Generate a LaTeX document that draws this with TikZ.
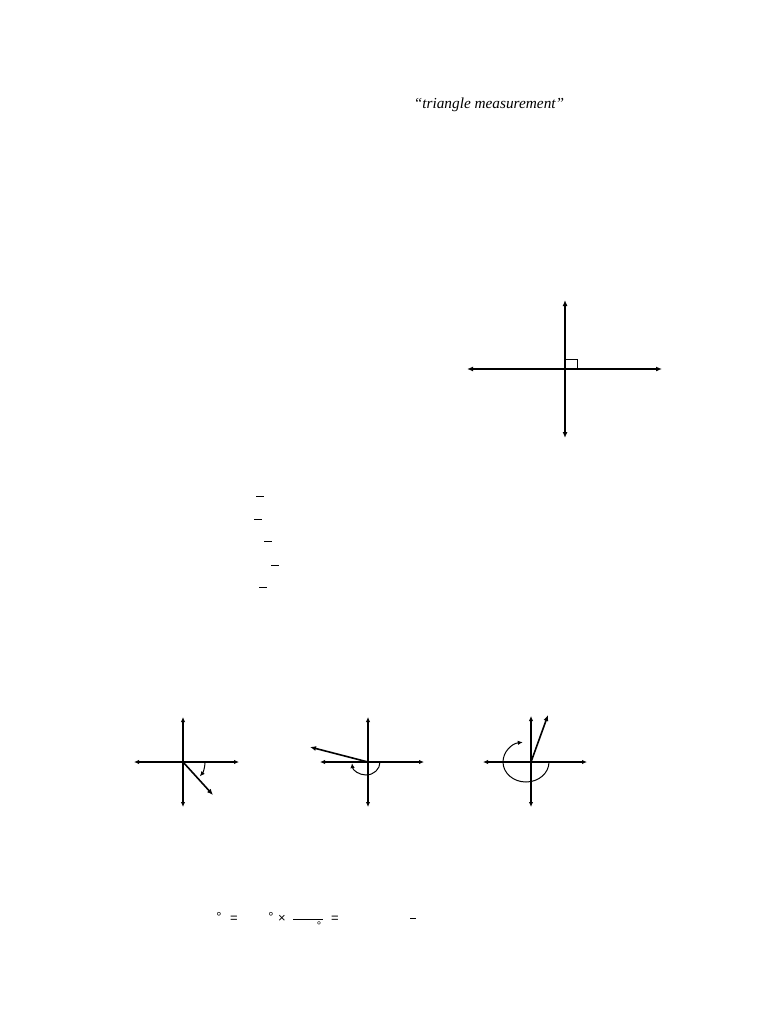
\documentclass[tikz,border=0pt]{standalone}
\usepackage{fontspec}
\setmainfont{Liberation Serif}
\newfontfamily\symfont{Liberation Sans}
\usetikzlibrary{arrows.meta,calc}
\begin{document}
\begin{tikzpicture}[x=1pt,y=-1pt,
  axis/.style={line width=1.8pt,{Latex[length=6pt,width=5pt]}-{Latex[length=6pt,width=5pt]}},
  saxis/.style={line width=1.3pt,{Latex[length=5pt,width=4.5pt]}-{Latex[length=5pt,width=4.5pt]}},
  ray/.style={line width=1.6pt,-{Latex[length=6pt,width=5pt]}},
  turn/.style={line width=1pt,-{Latex[length=5pt,width=4.5pt]}},
  bar/.style={line width=1pt},
  sym/.style={font=\symfont\fontsize{13}{15}\selectfont,inner sep=0pt}]
\useasboundingbox (0,0) rectangle (768,1024);
% title text
\node[font=\itshape\fontsize{15.3}{17}\selectfont,inner sep=0pt] (title) at (489,105) {“triangle measurement”};
% big axes
\coordinate (bO) at (565,369);
\coordinate (bL) at (467,369);
\coordinate (bR) at (662,369);
\coordinate (bT) at (565,300);
\coordinate (bB) at (565,438);
\draw[axis] (bL) -- (bR);
\draw[axis] (bT) -- (bB);
\draw[line width=0.8pt] (565,359) -- (577,359) -- (577,369);
% fraction bars
\draw[bar] (256,496) -- (264,496);
\draw[bar] (254,519) -- (262,519);
\draw[bar] (264,541) -- (272,541);
\draw[bar] (271,565) -- (279,565);
\draw[bar] (259,587) -- (267,587);
% diagram 1
\coordinate (aO) at (183,762);
\coordinate (aL) at (134,762);
\coordinate (aR) at (239,762);
\coordinate (aT) at (183,717);
\coordinate (aB) at (183,807);
\coordinate (aE) at (213,795);
\draw[saxis] (aL) -- (aR);
\draw[saxis] (aT) -- (aB);
\draw[ray] (aO) -- (aE);
\draw[turn] ($(aO)+(22,1)$) arc[start angle=2,end angle=40,radius=22];
% diagram 2
\coordinate (cO) at (368,762);
\coordinate (cL) at (320,762);
\coordinate (cR) at (424,762);
\coordinate (cT) at (368,717);
\coordinate (cB) at (368,807);
\coordinate (cE) at (310,747);
\draw[saxis] (cL) -- (cR);
\draw[saxis] (cT) -- (cB);
\draw[ray] (cO) -- (cE);
\draw[turn] (380,762) arc[start angle=0,end angle=175,x radius=14,y radius=13];
% diagram 3
\coordinate (dO) at (531,762);
\coordinate (dL) at (483,762);
\coordinate (dR) at (587,762);
\coordinate (dT) at (531,716);
\coordinate (dB) at (531,807);
\coordinate (dE) at (548,715);
\draw[saxis] (dL) -- (dR);
\draw[saxis] (dT) -- (dB);
\draw[ray] (dO) -- (dE);
\draw[turn] (549,762) arc[start angle=0,end angle=262,x radius=23,y radius=20];
% formula
\node[sym] (deg1) at (219,917) {°};
\node[sym] (eq1) at (234,919) {=};
\node[sym] (deg2) at (271,917) {°};
\node[sym] (times) at (282,919) {×};
\draw[line width=0.7pt] (293,919) -- (323,919);
\node[sym,font=\symfont\fontsize{11}{13}\selectfont] (deg3) at (319,926) {°};
\node[sym] (eq2) at (335,919) {=};
\draw[line width=0.9pt] (410,918) -- (416,918);
\end{tikzpicture}
\end{document}
